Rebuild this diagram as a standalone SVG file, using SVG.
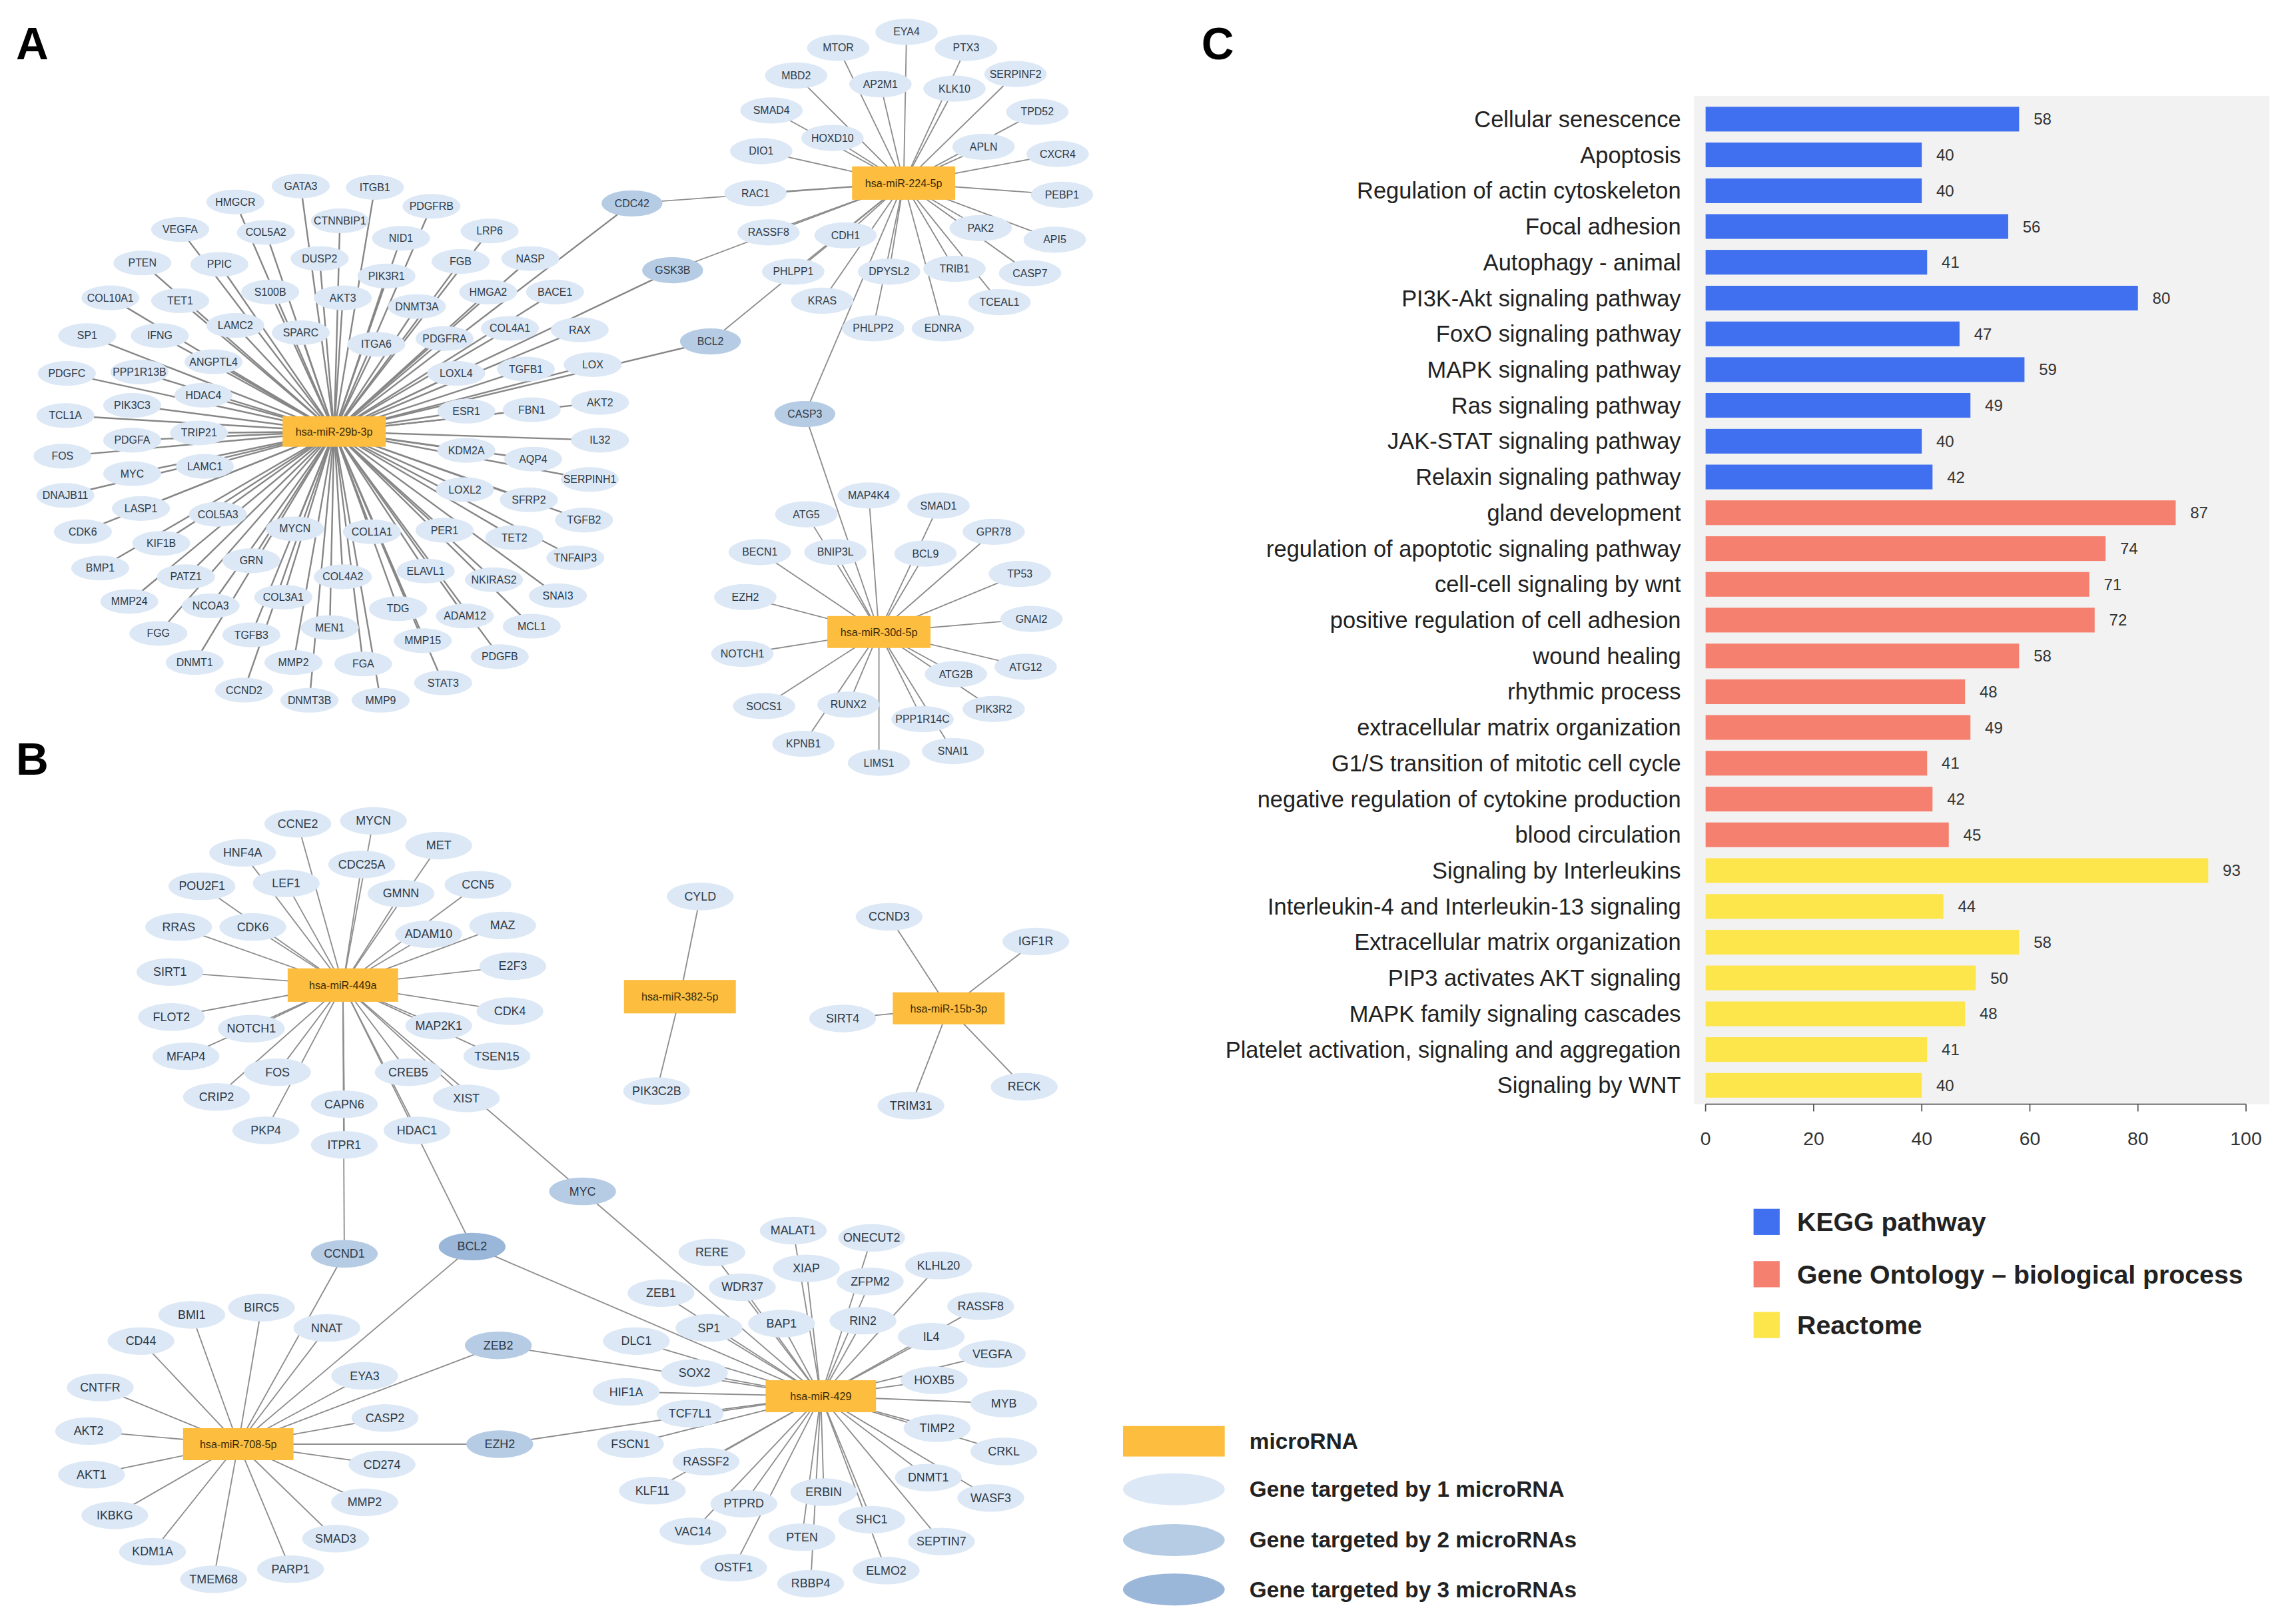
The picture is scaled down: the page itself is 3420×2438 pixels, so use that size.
<svg xmlns="http://www.w3.org/2000/svg" width="3420" height="2438" viewBox="0 0 3420 2438">
<style>
.g1{fill:#dce8f5}
.g2{fill:#b6cce4}
.g3{fill:#9ab6d8}
.mi{fill:#fdbd3f}
.n{font-family:"Liberation Sans",Arial,sans-serif;font-size:7.3px;fill:#2e3946;text-anchor:middle;dominant-baseline:central}
.nb{font-size:8.2px}
.m{font-family:"Liberation Sans",Arial,sans-serif;font-size:7.4px;fill:#3b2b05;text-anchor:middle;dominant-baseline:central}
.e line{stroke:#8e8e8e;stroke-width:0.85}
.e .e29 line{stroke:#868686;stroke-width:1.1}
.lab{font-family:"Liberation Sans",Arial,sans-serif;font-weight:700;font-size:31px;fill:#000}
.cat{font-family:"Liberation Sans",Arial,sans-serif;font-size:15.8px;fill:#222;text-anchor:end;dominant-baseline:central}
.val{font-family:"Liberation Sans",Arial,sans-serif;font-size:11px;fill:#333;dominant-baseline:central}
.tk{font-family:"Liberation Sans",Arial,sans-serif;font-size:13px;fill:#333;text-anchor:middle}
.kegg{fill:#4070f0}.go{fill:#f5806f}.rea{fill:#fde64c}
.lg{font-family:"Liberation Sans",Arial,sans-serif;font-weight:700;font-size:18px;fill:#222;dominant-baseline:central}
.lgb{font-family:"Liberation Sans",Arial,sans-serif;font-weight:700;font-size:15.3px;fill:#222;dominant-baseline:central}
</style>
<rect width="3420" height="2438" fill="#fff"/>
<g transform="scale(2.18112)">
<text class="lab" x="11" y="41">A</text>
<text class="lab" x="11" y="533">B</text>
<text class="lab" x="827" y="41">C</text>

<g id="connectors" class="e">
<g id="edges-29b" class="e29">
<line x1="230" y1="297" x2="207" y2="128"/><line x1="230" y1="297" x2="258" y2="129"/><line x1="230" y1="297" x2="162" y2="139"/><line x1="230" y1="297" x2="297" y2="142"/><line x1="230" y1="297" x2="234" y2="152"/><line x1="230" y1="297" x2="124" y2="158"/><line x1="230" y1="297" x2="183" y2="160"/><line x1="230" y1="297" x2="276" y2="164"/><line x1="230" y1="297" x2="337" y2="159"/><line x1="230" y1="297" x2="98" y2="181"/><line x1="230" y1="297" x2="151" y2="182"/><line x1="230" y1="297" x2="220" y2="178"/><line x1="230" y1="297" x2="266" y2="190"/><line x1="230" y1="297" x2="317" y2="180"/><line x1="230" y1="297" x2="365" y2="178"/><line x1="230" y1="297" x2="124" y2="207"/><line x1="230" y1="297" x2="186" y2="201"/><line x1="230" y1="297" x2="236" y2="205"/><line x1="230" y1="297" x2="336" y2="201"/><line x1="230" y1="297" x2="382" y2="201"/><line x1="230" y1="297" x2="76" y2="205"/><line x1="230" y1="297" x2="287" y2="211"/><line x1="230" y1="297" x2="162" y2="224"/><line x1="230" y1="297" x2="207" y2="229"/><line x1="230" y1="297" x2="259" y2="237"/><line x1="230" y1="297" x2="306" y2="233"/><line x1="230" y1="297" x2="351" y2="226"/><line x1="230" y1="297" x2="399" y2="227"/><line x1="230" y1="297" x2="60" y2="231"/><line x1="230" y1="297" x2="110" y2="231"/><line x1="230" y1="297" x2="147" y2="249"/><line x1="230" y1="297" x2="314" y2="257"/><line x1="230" y1="297" x2="362" y2="254"/><line x1="230" y1="297" x2="408" y2="251"/><line x1="230" y1="297" x2="46" y2="257"/><line x1="230" y1="297" x2="96" y2="256"/><line x1="230" y1="297" x2="140" y2="272"/><line x1="230" y1="297" x2="413" y2="277"/><line x1="230" y1="297" x2="91" y2="279"/><line x1="230" y1="297" x2="321" y2="283"/><line x1="230" y1="297" x2="366" y2="282"/><line x1="230" y1="297" x2="45" y2="286"/><line x1="230" y1="297" x2="137" y2="298"/><line x1="230" y1="297" x2="91" y2="303"/><line x1="230" y1="297" x2="413" y2="303"/><line x1="230" y1="297" x2="321" y2="310"/><line x1="230" y1="297" x2="367" y2="316"/><line x1="230" y1="297" x2="43" y2="314"/><line x1="230" y1="297" x2="141" y2="321"/><line x1="230" y1="297" x2="91" y2="326"/><line x1="230" y1="297" x2="406" y2="330"/><line x1="230" y1="297" x2="320" y2="337"/><line x1="230" y1="297" x2="45" y2="341"/><line x1="230" y1="297" x2="364" y2="344"/><line x1="230" y1="297" x2="97" y2="350"/><line x1="230" y1="297" x2="150" y2="354"/><line x1="230" y1="297" x2="402" y2="358"/><line x1="230" y1="297" x2="203" y2="364"/><line x1="230" y1="297" x2="256" y2="366"/><line x1="230" y1="297" x2="306" y2="365"/><line x1="230" y1="297" x2="57" y2="366"/><line x1="230" y1="297" x2="354" y2="370"/><line x1="230" y1="297" x2="111" y2="374"/><line x1="230" y1="297" x2="396" y2="384"/><line x1="230" y1="297" x2="173" y2="386"/><line x1="230" y1="297" x2="69" y2="391"/><line x1="230" y1="297" x2="293" y2="393"/><line x1="230" y1="297" x2="128" y2="397"/><line x1="230" y1="297" x2="236" y2="397"/><line x1="230" y1="297" x2="340" y2="399"/><line x1="230" y1="297" x2="384" y2="410"/><line x1="230" y1="297" x2="195" y2="411"/><line x1="230" y1="297" x2="89" y2="414"/><line x1="230" y1="297" x2="145" y2="417"/><line x1="230" y1="297" x2="274" y2="419"/><line x1="230" y1="297" x2="320" y2="424"/><line x1="230" y1="297" x2="227" y2="432"/><line x1="230" y1="297" x2="366" y2="431"/><line x1="230" y1="297" x2="109" y2="436"/><line x1="230" y1="297" x2="173" y2="437"/><line x1="230" y1="297" x2="291" y2="441"/><line x1="230" y1="297" x2="344" y2="452"/><line x1="230" y1="297" x2="134" y2="456"/><line x1="230" y1="297" x2="202" y2="456"/><line x1="230" y1="297" x2="250" y2="457"/><line x1="230" y1="297" x2="305" y2="470"/><line x1="230" y1="297" x2="168" y2="475"/><line x1="230" y1="297" x2="213" y2="482"/><line x1="230" y1="297" x2="262" y2="482"/>
<line x1="230" y1="297" x2="435" y2="140"/><line x1="230" y1="297" x2="463" y2="186"/><line x1="230" y1="297" x2="489" y2="235"/>
</g>
<g id="edges-224">
<line x1="622" y1="126" x2="624" y2="22"/><line x1="622" y1="126" x2="577" y2="33"/><line x1="622" y1="126" x2="665" y2="33"/><line x1="622" y1="126" x2="548" y2="52"/><line x1="622" y1="126" x2="606" y2="58"/><line x1="622" y1="126" x2="657" y2="61"/><line x1="622" y1="126" x2="699" y2="51"/><line x1="622" y1="126" x2="531" y2="76"/><line x1="622" y1="126" x2="714" y2="77"/><line x1="622" y1="126" x2="573" y2="95"/><line x1="622" y1="126" x2="524" y2="104"/><line x1="622" y1="126" x2="677" y2="101"/><line x1="622" y1="126" x2="728" y2="106"/><line x1="622" y1="126" x2="520" y2="133"/><line x1="622" y1="126" x2="731" y2="134"/><line x1="622" y1="126" x2="529" y2="160"/><line x1="622" y1="126" x2="582" y2="162"/><line x1="622" y1="126" x2="675" y2="157"/><line x1="622" y1="126" x2="726" y2="165"/><line x1="622" y1="126" x2="546" y2="187"/><line x1="622" y1="126" x2="612" y2="187"/><line x1="622" y1="126" x2="657" y2="185"/><line x1="622" y1="126" x2="709" y2="188"/><line x1="622" y1="126" x2="566" y2="207"/><line x1="622" y1="126" x2="688" y2="208"/><line x1="622" y1="126" x2="601" y2="226"/><line x1="622" y1="126" x2="649" y2="226"/>
<line x1="622" y1="126" x2="435" y2="140"/><line x1="622" y1="126" x2="463" y2="186"/><line x1="622" y1="126" x2="489" y2="235"/><line x1="622" y1="126" x2="554" y2="285"/>
</g>
<g id="edges-30d">
<line x1="605" y1="435" x2="554" y2="285"/>
<line x1="605" y1="435" x2="598" y2="341"/><line x1="605" y1="435" x2="555" y2="354"/><line x1="605" y1="435" x2="646" y2="348"/><line x1="605" y1="435" x2="684" y2="366"/><line x1="605" y1="435" x2="523" y2="380"/><line x1="605" y1="435" x2="575" y2="380"/><line x1="605" y1="435" x2="637" y2="381"/><line x1="605" y1="435" x2="702" y2="395"/><line x1="605" y1="435" x2="513" y2="411"/><line x1="605" y1="435" x2="710" y2="426"/><line x1="605" y1="435" x2="511" y2="450"/><line x1="605" y1="435" x2="706" y2="459"/><line x1="605" y1="435" x2="658" y2="464"/><line x1="605" y1="435" x2="526" y2="486"/><line x1="605" y1="435" x2="584" y2="485"/><line x1="605" y1="435" x2="684" y2="488"/><line x1="605" y1="435" x2="635" y2="495"/><line x1="605" y1="435" x2="553" y2="512"/><line x1="605" y1="435" x2="656" y2="517"/><line x1="605" y1="435" x2="605" y2="525"/>
</g>
<g id="edges-449a">
<line x1="236" y1="678" x2="205" y2="567"/><line x1="236" y1="678" x2="257" y2="565"/><line x1="236" y1="678" x2="167" y2="587"/><line x1="236" y1="678" x2="249" y2="595"/><line x1="236" y1="678" x2="302" y2="582"/><line x1="236" y1="678" x2="197" y2="608"/><line x1="236" y1="678" x2="139" y2="610"/><line x1="236" y1="678" x2="276" y2="615"/><line x1="236" y1="678" x2="329" y2="609"/><line x1="236" y1="678" x2="123" y2="638"/><line x1="236" y1="678" x2="174" y2="638"/><line x1="236" y1="678" x2="295" y2="643"/><line x1="236" y1="678" x2="346" y2="637"/><line x1="236" y1="678" x2="117" y2="669"/><line x1="236" y1="678" x2="353" y2="665"/><line x1="236" y1="678" x2="118" y2="700"/><line x1="236" y1="678" x2="351" y2="696"/><line x1="236" y1="678" x2="173" y2="708"/><line x1="236" y1="678" x2="302" y2="706"/><line x1="236" y1="678" x2="128" y2="727"/><line x1="236" y1="678" x2="342" y2="727"/><line x1="236" y1="678" x2="191" y2="738"/><line x1="236" y1="678" x2="281" y2="738"/><line x1="236" y1="678" x2="149" y2="755"/><line x1="236" y1="678" x2="237" y2="760"/><line x1="236" y1="678" x2="321" y2="756"/><line x1="236" y1="678" x2="183" y2="778"/><line x1="236" y1="678" x2="287" y2="778"/><line x1="236" y1="678" x2="237" y2="788"/>
<line x1="236" y1="678" x2="237" y2="863"/><line x1="236" y1="678" x2="325" y2="858"/><line x1="236" y1="678" x2="401" y2="820"/>
</g>
<g id="edges-382">
<line x1="468" y1="686" x2="482" y2="617"/><line x1="468" y1="686" x2="452" y2="751"/>
</g>
<g id="edges-15b">
<line x1="653" y1="694" x2="612" y2="631"/><line x1="653" y1="694" x2="713" y2="648"/><line x1="653" y1="694" x2="580" y2="701"/><line x1="653" y1="694" x2="705" y2="748"/><line x1="653" y1="694" x2="627" y2="761"/>
</g>
<g id="edges-708">
<line x1="164" y1="994" x2="237" y2="863"/><line x1="164" y1="994" x2="325" y2="858"/><line x1="164" y1="994" x2="343" y2="926"/><line x1="164" y1="994" x2="344" y2="994"/>
<line x1="164" y1="994" x2="132" y2="905"/><line x1="164" y1="994" x2="180" y2="900"/><line x1="164" y1="994" x2="97" y2="923"/><line x1="164" y1="994" x2="225" y2="914"/><line x1="164" y1="994" x2="69" y2="955"/><line x1="164" y1="994" x2="251" y2="947"/><line x1="164" y1="994" x2="61" y2="985"/><line x1="164" y1="994" x2="265" y2="976"/><line x1="164" y1="994" x2="263" y2="1008"/><line x1="164" y1="994" x2="63" y2="1015"/><line x1="164" y1="994" x2="251" y2="1034"/><line x1="164" y1="994" x2="79" y2="1043"/><line x1="164" y1="994" x2="231" y2="1059"/><line x1="164" y1="994" x2="105" y2="1068"/><line x1="164" y1="994" x2="200" y2="1080"/><line x1="164" y1="994" x2="147" y2="1087"/>
</g>
<g id="edges-429">
<line x1="565" y1="961" x2="325" y2="858"/><line x1="565" y1="961" x2="401" y2="820"/><line x1="565" y1="961" x2="343" y2="926"/><line x1="565" y1="961" x2="344" y2="994"/>
<line x1="565" y1="961" x2="546" y2="847"/><line x1="565" y1="961" x2="600" y2="852"/><line x1="565" y1="961" x2="490" y2="862"/><line x1="565" y1="961" x2="646" y2="871"/><line x1="565" y1="961" x2="555" y2="873"/><line x1="565" y1="961" x2="511" y2="886"/><line x1="565" y1="961" x2="599" y2="882"/><line x1="565" y1="961" x2="455" y2="890"/><line x1="565" y1="961" x2="675" y2="899"/><line x1="565" y1="961" x2="538" y2="911"/><line x1="565" y1="961" x2="594" y2="909"/><line x1="565" y1="961" x2="488" y2="914"/><line x1="565" y1="961" x2="641" y2="920"/><line x1="565" y1="961" x2="438" y2="923"/><line x1="565" y1="961" x2="683" y2="932"/><line x1="565" y1="961" x2="478" y2="945"/><line x1="565" y1="961" x2="643" y2="950"/><line x1="565" y1="961" x2="431" y2="958"/><line x1="565" y1="961" x2="475" y2="973"/><line x1="565" y1="961" x2="691" y2="966"/><line x1="565" y1="961" x2="434" y2="994"/><line x1="565" y1="961" x2="645" y2="983"/><line x1="565" y1="961" x2="486" y2="1006"/><line x1="565" y1="961" x2="691" y2="999"/><line x1="565" y1="961" x2="449" y2="1026"/><line x1="565" y1="961" x2="639" y2="1017"/><line x1="565" y1="961" x2="567" y2="1027"/><line x1="565" y1="961" x2="682" y2="1031"/><line x1="565" y1="961" x2="600" y2="1046"/><line x1="565" y1="961" x2="512" y2="1035"/><line x1="565" y1="961" x2="477" y2="1054"/><line x1="565" y1="961" x2="648" y2="1061"/><line x1="565" y1="961" x2="552" y2="1058"/><line x1="565" y1="961" x2="505" y2="1079"/><line x1="565" y1="961" x2="610" y2="1081"/><line x1="565" y1="961" x2="558" y2="1090"/>
</g>
</g>

<g id="panelA-nodes">
<g id="A-GATA3"><ellipse class="g1" cx="207" cy="128" rx="20" ry="8.5"/><text class="n" x="207" y="128">GATA3</text></g>
<g id="A-ITGB1"><ellipse class="g1" cx="258" cy="129" rx="20" ry="8.5"/><text class="n" x="258" y="129">ITGB1</text></g>
<g id="A-HMGCR"><ellipse class="g1" cx="162" cy="139" rx="20" ry="8.5"/><text class="n" x="162" y="139">HMGCR</text></g>
<g id="A-PDGFRB"><ellipse class="g1" cx="297" cy="142" rx="20" ry="8.5"/><text class="n" x="297" y="142">PDGFRB</text></g>
<g id="A-CTNNBIP1"><ellipse class="g1" cx="234" cy="152" rx="20" ry="8.5"/><text class="n" x="234" y="152">CTNNBIP1</text></g>
<g id="A-VEGFA"><ellipse class="g1" cx="124" cy="158" rx="20" ry="8.5"/><text class="n" x="124" y="158">VEGFA</text></g>
<g id="A-COL5A2"><ellipse class="g1" cx="183" cy="160" rx="20" ry="8.5"/><text class="n" x="183" y="160">COL5A2</text></g>
<g id="A-NID1"><ellipse class="g1" cx="276" cy="164" rx="20" ry="8.5"/><text class="n" x="276" y="164">NID1</text></g>
<g id="A-LRP6"><ellipse class="g1" cx="337" cy="159" rx="20" ry="8.5"/><text class="n" x="337" y="159">LRP6</text></g>
<g id="A-PTEN"><ellipse class="g1" cx="98" cy="181" rx="20" ry="8.5"/><text class="n" x="98" y="181">PTEN</text></g>
<g id="A-PPIC"><ellipse class="g1" cx="151" cy="182" rx="20" ry="8.5"/><text class="n" x="151" y="182">PPIC</text></g>
<g id="A-DUSP2"><ellipse class="g1" cx="220" cy="178" rx="20" ry="8.5"/><text class="n" x="220" y="178">DUSP2</text></g>
<g id="A-PIK3R1"><ellipse class="g1" cx="266" cy="190" rx="20" ry="8.5"/><text class="n" x="266" y="190">PIK3R1</text></g>
<g id="A-FGB"><ellipse class="g1" cx="317" cy="180" rx="20" ry="8.5"/><text class="n" x="317" y="180">FGB</text></g>
<g id="A-NASP"><ellipse class="g1" cx="365" cy="178" rx="20" ry="8.5"/><text class="n" x="365" y="178">NASP</text></g>
<g id="A-TET1"><ellipse class="g1" cx="124" cy="207" rx="20" ry="8.5"/><text class="n" x="124" y="207">TET1</text></g>
<g id="A-S100B"><ellipse class="g1" cx="186" cy="201" rx="20" ry="8.5"/><text class="n" x="186" y="201">S100B</text></g>
<g id="A-AKT3"><ellipse class="g1" cx="236" cy="205" rx="20" ry="8.5"/><text class="n" x="236" y="205">AKT3</text></g>
<g id="A-HMGA2"><ellipse class="g1" cx="336" cy="201" rx="20" ry="8.5"/><text class="n" x="336" y="201">HMGA2</text></g>
<g id="A-BACE1"><ellipse class="g1" cx="382" cy="201" rx="20" ry="8.5"/><text class="n" x="382" y="201">BACE1</text></g>
<g id="A-COL10A1"><ellipse class="g1" cx="76" cy="205" rx="20" ry="8.5"/><text class="n" x="76" y="205">COL10A1</text></g>
<g id="A-DNMT3A"><ellipse class="g1" cx="287" cy="211" rx="20" ry="8.5"/><text class="n" x="287" y="211">DNMT3A</text></g>
<g id="A-LAMC2"><ellipse class="g1" cx="162" cy="224" rx="20" ry="8.5"/><text class="n" x="162" y="224">LAMC2</text></g>
<g id="A-SPARC"><ellipse class="g1" cx="207" cy="229" rx="20" ry="8.5"/><text class="n" x="207" y="229">SPARC</text></g>
<g id="A-ITGA6"><ellipse class="g1" cx="259" cy="237" rx="20" ry="8.5"/><text class="n" x="259" y="237">ITGA6</text></g>
<g id="A-PDGFRA"><ellipse class="g1" cx="306" cy="233" rx="20" ry="8.5"/><text class="n" x="306" y="233">PDGFRA</text></g>
<g id="A-COL4A1"><ellipse class="g1" cx="351" cy="226" rx="20" ry="8.5"/><text class="n" x="351" y="226">COL4A1</text></g>
<g id="A-RAX"><ellipse class="g1" cx="399" cy="227" rx="20" ry="8.5"/><text class="n" x="399" y="227">RAX</text></g>
<g id="A-SP1"><ellipse class="g1" cx="60" cy="231" rx="20" ry="8.5"/><text class="n" x="60" y="231">SP1</text></g>
<g id="A-IFNG"><ellipse class="g1" cx="110" cy="231" rx="20" ry="8.5"/><text class="n" x="110" y="231">IFNG</text></g>
<g id="A-ANGPTL4"><ellipse class="g1" cx="147" cy="249" rx="20" ry="8.5"/><text class="n" x="147" y="249">ANGPTL4</text></g>
<g id="A-LOXL4"><ellipse class="g1" cx="314" cy="257" rx="20" ry="8.5"/><text class="n" x="314" y="257">LOXL4</text></g>
<g id="A-TGFB1"><ellipse class="g1" cx="362" cy="254" rx="20" ry="8.5"/><text class="n" x="362" y="254">TGFB1</text></g>
<g id="A-LOX"><ellipse class="g1" cx="408" cy="251" rx="20" ry="8.5"/><text class="n" x="408" y="251">LOX</text></g>
<g id="A-PDGFC"><ellipse class="g1" cx="46" cy="257" rx="20" ry="8.5"/><text class="n" x="46" y="257">PDGFC</text></g>
<g id="A-PPP1R13B"><ellipse class="g1" cx="96" cy="256" rx="20" ry="8.5"/><text class="n" x="96" y="256">PPP1R13B</text></g>
<g id="A-HDAC4"><ellipse class="g1" cx="140" cy="272" rx="20" ry="8.5"/><text class="n" x="140" y="272">HDAC4</text></g>
<g id="A-AKT2"><ellipse class="g1" cx="413" cy="277" rx="20" ry="8.5"/><text class="n" x="413" y="277">AKT2</text></g>
<g id="A-PIK3C3"><ellipse class="g1" cx="91" cy="279" rx="20" ry="8.5"/><text class="n" x="91" y="279">PIK3C3</text></g>
<g id="A-ESR1"><ellipse class="g1" cx="321" cy="283" rx="20" ry="8.5"/><text class="n" x="321" y="283">ESR1</text></g>
<g id="A-FBN1"><ellipse class="g1" cx="366" cy="282" rx="20" ry="8.5"/><text class="n" x="366" y="282">FBN1</text></g>
<g id="A-TCL1A"><ellipse class="g1" cx="45" cy="286" rx="20" ry="8.5"/><text class="n" x="45" y="286">TCL1A</text></g>
<g id="A-TRIP21"><ellipse class="g1" cx="137" cy="298" rx="20" ry="8.5"/><text class="n" x="137" y="298">TRIP21</text></g>
<g id="A-PDGFA"><ellipse class="g1" cx="91" cy="303" rx="20" ry="8.5"/><text class="n" x="91" y="303">PDGFA</text></g>
<g id="A-IL32"><ellipse class="g1" cx="413" cy="303" rx="20" ry="8.5"/><text class="n" x="413" y="303">IL32</text></g>
<g id="A-KDM2A"><ellipse class="g1" cx="321" cy="310" rx="20" ry="8.5"/><text class="n" x="321" y="310">KDM2A</text></g>
<g id="A-AQP4"><ellipse class="g1" cx="367" cy="316" rx="20" ry="8.5"/><text class="n" x="367" y="316">AQP4</text></g>
<g id="A-FOS"><ellipse class="g1" cx="43" cy="314" rx="20" ry="8.5"/><text class="n" x="43" y="314">FOS</text></g>
<g id="A-LAMC1"><ellipse class="g1" cx="141" cy="321" rx="20" ry="8.5"/><text class="n" x="141" y="321">LAMC1</text></g>
<g id="A-MYC"><ellipse class="g1" cx="91" cy="326" rx="20" ry="8.5"/><text class="n" x="91" y="326">MYC</text></g>
<g id="A-SERPINH1"><ellipse class="g1" cx="406" cy="330" rx="20" ry="8.5"/><text class="n" x="406" y="330">SERPINH1</text></g>
<g id="A-LOXL2"><ellipse class="g1" cx="320" cy="337" rx="20" ry="8.5"/><text class="n" x="320" y="337">LOXL2</text></g>
<g id="A-DNAJB11"><ellipse class="g1" cx="45" cy="341" rx="20" ry="8.5"/><text class="n" x="45" y="341">DNAJB11</text></g>
<g id="A-SFRP2"><ellipse class="g1" cx="364" cy="344" rx="20" ry="8.5"/><text class="n" x="364" y="344">SFRP2</text></g>
<g id="A-LASP1"><ellipse class="g1" cx="97" cy="350" rx="20" ry="8.5"/><text class="n" x="97" y="350">LASP1</text></g>
<g id="A-COL5A3"><ellipse class="g1" cx="150" cy="354" rx="20" ry="8.5"/><text class="n" x="150" y="354">COL5A3</text></g>
<g id="A-TGFB2"><ellipse class="g1" cx="402" cy="358" rx="20" ry="8.5"/><text class="n" x="402" y="358">TGFB2</text></g>
<g id="A-MYCN"><ellipse class="g1" cx="203" cy="364" rx="20" ry="8.5"/><text class="n" x="203" y="364">MYCN</text></g>
<g id="A-COL1A1"><ellipse class="g1" cx="256" cy="366" rx="20" ry="8.5"/><text class="n" x="256" y="366">COL1A1</text></g>
<g id="A-PER1"><ellipse class="g1" cx="306" cy="365" rx="20" ry="8.5"/><text class="n" x="306" y="365">PER1</text></g>
<g id="A-CDK6"><ellipse class="g1" cx="57" cy="366" rx="20" ry="8.5"/><text class="n" x="57" y="366">CDK6</text></g>
<g id="A-TET2"><ellipse class="g1" cx="354" cy="370" rx="20" ry="8.5"/><text class="n" x="354" y="370">TET2</text></g>
<g id="A-KIF1B"><ellipse class="g1" cx="111" cy="374" rx="20" ry="8.5"/><text class="n" x="111" y="374">KIF1B</text></g>
<g id="A-TNFAIP3"><ellipse class="g1" cx="396" cy="384" rx="20" ry="8.5"/><text class="n" x="396" y="384">TNFAIP3</text></g>
<g id="A-GRN"><ellipse class="g1" cx="173" cy="386" rx="20" ry="8.5"/><text class="n" x="173" y="386">GRN</text></g>
<g id="A-BMP1"><ellipse class="g1" cx="69" cy="391" rx="20" ry="8.5"/><text class="n" x="69" y="391">BMP1</text></g>
<g id="A-ELAVL1"><ellipse class="g1" cx="293" cy="393" rx="20" ry="8.5"/><text class="n" x="293" y="393">ELAVL1</text></g>
<g id="A-PATZ1"><ellipse class="g1" cx="128" cy="397" rx="20" ry="8.5"/><text class="n" x="128" y="397">PATZ1</text></g>
<g id="A-COL4A2"><ellipse class="g1" cx="236" cy="397" rx="20" ry="8.5"/><text class="n" x="236" y="397">COL4A2</text></g>
<g id="A-NKIRAS2"><ellipse class="g1" cx="340" cy="399" rx="20" ry="8.5"/><text class="n" x="340" y="399">NKIRAS2</text></g>
<g id="A-SNAI3"><ellipse class="g1" cx="384" cy="410" rx="20" ry="8.5"/><text class="n" x="384" y="410">SNAI3</text></g>
<g id="A-COL3A1"><ellipse class="g1" cx="195" cy="411" rx="20" ry="8.5"/><text class="n" x="195" y="411">COL3A1</text></g>
<g id="A-MMP24"><ellipse class="g1" cx="89" cy="414" rx="20" ry="8.5"/><text class="n" x="89" y="414">MMP24</text></g>
<g id="A-NCOA3"><ellipse class="g1" cx="145" cy="417" rx="20" ry="8.5"/><text class="n" x="145" y="417">NCOA3</text></g>
<g id="A-TDG"><ellipse class="g1" cx="274" cy="419" rx="20" ry="8.5"/><text class="n" x="274" y="419">TDG</text></g>
<g id="A-ADAM12"><ellipse class="g1" cx="320" cy="424" rx="20" ry="8.5"/><text class="n" x="320" y="424">ADAM12</text></g>
<g id="A-MEN1"><ellipse class="g1" cx="227" cy="432" rx="20" ry="8.5"/><text class="n" x="227" y="432">MEN1</text></g>
<g id="A-MCL1"><ellipse class="g1" cx="366" cy="431" rx="20" ry="8.5"/><text class="n" x="366" y="431">MCL1</text></g>
<g id="A-FGG"><ellipse class="g1" cx="109" cy="436" rx="20" ry="8.5"/><text class="n" x="109" y="436">FGG</text></g>
<g id="A-TGFB3"><ellipse class="g1" cx="173" cy="437" rx="20" ry="8.5"/><text class="n" x="173" y="437">TGFB3</text></g>
<g id="A-MMP15"><ellipse class="g1" cx="291" cy="441" rx="20" ry="8.5"/><text class="n" x="291" y="441">MMP15</text></g>
<g id="A-PDGFB"><ellipse class="g1" cx="344" cy="452" rx="20" ry="8.5"/><text class="n" x="344" y="452">PDGFB</text></g>
<g id="A-DNMT1"><ellipse class="g1" cx="134" cy="456" rx="20" ry="8.5"/><text class="n" x="134" y="456">DNMT1</text></g>
<g id="A-MMP2"><ellipse class="g1" cx="202" cy="456" rx="20" ry="8.5"/><text class="n" x="202" y="456">MMP2</text></g>
<g id="A-FGA"><ellipse class="g1" cx="250" cy="457" rx="20" ry="8.5"/><text class="n" x="250" y="457">FGA</text></g>
<g id="A-STAT3"><ellipse class="g1" cx="305" cy="470" rx="20" ry="8.5"/><text class="n" x="305" y="470">STAT3</text></g>
<g id="A-CCND2"><ellipse class="g1" cx="168" cy="475" rx="20" ry="8.5"/><text class="n" x="168" y="475">CCND2</text></g>
<g id="A-DNMT3B"><ellipse class="g1" cx="213" cy="482" rx="20" ry="8.5"/><text class="n" x="213" y="482">DNMT3B</text></g>
<g id="A-MMP9"><ellipse class="g1" cx="262" cy="482" rx="20" ry="8.5"/><text class="n" x="262" y="482">MMP9</text></g>

<g id="A-CDC42"><ellipse class="g2" cx="435" cy="140" rx="21" ry="9"/><text class="n" x="435" y="140">CDC42</text></g>
<g id="A-GSK3B"><ellipse class="g2" cx="463" cy="186" rx="21" ry="9"/><text class="n" x="463" y="186">GSK3B</text></g>
<g id="A-BCL2"><ellipse class="g2" cx="489" cy="235" rx="21" ry="9"/><text class="n" x="489" y="235">BCL2</text></g>
<g id="A-CASP3"><ellipse class="g2" cx="554" cy="285" rx="21" ry="9"/><text class="n" x="554" y="285">CASP3</text></g>

<g id="A-EYA4"><ellipse class="g1" cx="624" cy="22" rx="21.5" ry="9"/><text class="n" x="624" y="22">EYA4</text></g>
<g id="A-MTOR"><ellipse class="g1" cx="577" cy="33" rx="21.5" ry="9"/><text class="n" x="577" y="33">MTOR</text></g>
<g id="A-PTX3"><ellipse class="g1" cx="665" cy="33" rx="21.5" ry="9"/><text class="n" x="665" y="33">PTX3</text></g>
<g id="A-MBD2"><ellipse class="g1" cx="548" cy="52" rx="21.5" ry="9"/><text class="n" x="548" y="52">MBD2</text></g>
<g id="A-AP2M1"><ellipse class="g1" cx="606" cy="58" rx="21.5" ry="9"/><text class="n" x="606" y="58">AP2M1</text></g>
<g id="A-KLK10"><ellipse class="g1" cx="657" cy="61" rx="21.5" ry="9"/><text class="n" x="657" y="61">KLK10</text></g>
<g id="A-SERPINF2"><ellipse class="g1" cx="699" cy="51" rx="21.5" ry="9"/><text class="n" x="699" y="51">SERPINF2</text></g>
<g id="A-SMAD4"><ellipse class="g1" cx="531" cy="76" rx="21.5" ry="9"/><text class="n" x="531" y="76">SMAD4</text></g>
<g id="A-TPD52"><ellipse class="g1" cx="714" cy="77" rx="21.5" ry="9"/><text class="n" x="714" y="77">TPD52</text></g>
<g id="A-HOXD10"><ellipse class="g1" cx="573" cy="95" rx="21.5" ry="9"/><text class="n" x="573" y="95">HOXD10</text></g>
<g id="A-DIO1"><ellipse class="g1" cx="524" cy="104" rx="21.5" ry="9"/><text class="n" x="524" y="104">DIO1</text></g>
<g id="A-APLN"><ellipse class="g1" cx="677" cy="101" rx="21.5" ry="9"/><text class="n" x="677" y="101">APLN</text></g>
<g id="A-CXCR4"><ellipse class="g1" cx="728" cy="106" rx="21.5" ry="9"/><text class="n" x="728" y="106">CXCR4</text></g>
<g id="A-RAC1"><ellipse class="g1" cx="520" cy="133" rx="21.5" ry="9"/><text class="n" x="520" y="133">RAC1</text></g>
<g id="A-PEBP1"><ellipse class="g1" cx="731" cy="134" rx="21.5" ry="9"/><text class="n" x="731" y="134">PEBP1</text></g>
<g id="A-RASSF8"><ellipse class="g1" cx="529" cy="160" rx="21.5" ry="9"/><text class="n" x="529" y="160">RASSF8</text></g>
<g id="A-CDH1"><ellipse class="g1" cx="582" cy="162" rx="21.5" ry="9"/><text class="n" x="582" y="162">CDH1</text></g>
<g id="A-PAK2"><ellipse class="g1" cx="675" cy="157" rx="21.5" ry="9"/><text class="n" x="675" y="157">PAK2</text></g>
<g id="A-API5"><ellipse class="g1" cx="726" cy="165" rx="21.5" ry="9"/><text class="n" x="726" y="165">API5</text></g>
<g id="A-PHLPP1"><ellipse class="g1" cx="546" cy="187" rx="21.5" ry="9"/><text class="n" x="546" y="187">PHLPP1</text></g>
<g id="A-DPYSL2"><ellipse class="g1" cx="612" cy="187" rx="21.5" ry="9"/><text class="n" x="612" y="187">DPYSL2</text></g>
<g id="A-TRIB1"><ellipse class="g1" cx="657" cy="185" rx="21.5" ry="9"/><text class="n" x="657" y="185">TRIB1</text></g>
<g id="A-CASP7"><ellipse class="g1" cx="709" cy="188" rx="21.5" ry="9"/><text class="n" x="709" y="188">CASP7</text></g>
<g id="A-KRAS"><ellipse class="g1" cx="566" cy="207" rx="21.5" ry="9"/><text class="n" x="566" y="207">KRAS</text></g>
<g id="A-TCEAL1"><ellipse class="g1" cx="688" cy="208" rx="21.5" ry="9"/><text class="n" x="688" y="208">TCEAL1</text></g>
<g id="A-PHLPP2"><ellipse class="g1" cx="601" cy="226" rx="21.5" ry="9"/><text class="n" x="601" y="226">PHLPP2</text></g>
<g id="A-EDNRA"><ellipse class="g1" cx="649" cy="226" rx="21.5" ry="9"/><text class="n" x="649" y="226">EDNRA</text></g>

<g id="A-MAP4K4"><ellipse class="g1" cx="598" cy="341" rx="21.5" ry="9"/><text class="n" x="598" y="341">MAP4K4</text></g>
<g id="A-ATG5"><ellipse class="g1" cx="555" cy="354" rx="21.5" ry="9"/><text class="n" x="555" y="354">ATG5</text></g>
<g id="A-SMAD1"><ellipse class="g1" cx="646" cy="348" rx="21.5" ry="9"/><text class="n" x="646" y="348">SMAD1</text></g>
<g id="A-GPR78"><ellipse class="g1" cx="684" cy="366" rx="21.5" ry="9"/><text class="n" x="684" y="366">GPR78</text></g>
<g id="A-BECN1"><ellipse class="g1" cx="523" cy="380" rx="21.5" ry="9"/><text class="n" x="523" y="380">BECN1</text></g>
<g id="A-BNIP3L"><ellipse class="g1" cx="575" cy="380" rx="21.5" ry="9"/><text class="n" x="575" y="380">BNIP3L</text></g>
<g id="A-BCL9"><ellipse class="g1" cx="637" cy="381" rx="21.5" ry="9"/><text class="n" x="637" y="381">BCL9</text></g>
<g id="A-TP53"><ellipse class="g1" cx="702" cy="395" rx="21.5" ry="9"/><text class="n" x="702" y="395">TP53</text></g>
<g id="A-EZH2"><ellipse class="g1" cx="513" cy="411" rx="21.5" ry="9"/><text class="n" x="513" y="411">EZH2</text></g>
<g id="A-GNAI2"><ellipse class="g1" cx="710" cy="426" rx="21.5" ry="9"/><text class="n" x="710" y="426">GNAI2</text></g>
<g id="A-NOTCH1"><ellipse class="g1" cx="511" cy="450" rx="21.5" ry="9"/><text class="n" x="511" y="450">NOTCH1</text></g>
<g id="A-ATG12"><ellipse class="g1" cx="706" cy="459" rx="21.5" ry="9"/><text class="n" x="706" y="459">ATG12</text></g>
<g id="A-ATG2B"><ellipse class="g1" cx="658" cy="464" rx="21.5" ry="9"/><text class="n" x="658" y="464">ATG2B</text></g>
<g id="A-SOCS1"><ellipse class="g1" cx="526" cy="486" rx="21.5" ry="9"/><text class="n" x="526" y="486">SOCS1</text></g>
<g id="A-RUNX2"><ellipse class="g1" cx="584" cy="485" rx="21.5" ry="9"/><text class="n" x="584" y="485">RUNX2</text></g>
<g id="A-PIK3R2"><ellipse class="g1" cx="684" cy="488" rx="21.5" ry="9"/><text class="n" x="684" y="488">PIK3R2</text></g>
<g id="A-PPP1R14C"><ellipse class="g1" cx="635" cy="495" rx="21.5" ry="9"/><text class="n" x="635" y="495">PPP1R14C</text></g>
<g id="A-KPNB1"><ellipse class="g1" cx="553" cy="512" rx="21.5" ry="9"/><text class="n" x="553" y="512">KPNB1</text></g>
<g id="A-SNAI1"><ellipse class="g1" cx="656" cy="517" rx="21.5" ry="9"/><text class="n" x="656" y="517">SNAI1</text></g>
<g id="A-LIMS1"><ellipse class="g1" cx="605" cy="525" rx="21.5" ry="9"/><text class="n" x="605" y="525">LIMS1</text></g>

<g id="A-hsa-miR-29b-3p"><rect class="mi" x="194.5" y="286.5" width="71" height="21"/><text class="m" x="230" y="297">hsa-miR-29b-3p</text></g>
<g id="A-hsa-miR-224-5p"><rect class="mi" x="586.5" y="114.5" width="71" height="23"/><text class="m" x="622" y="126">hsa-miR-224-5p</text></g>
<g id="A-hsa-miR-30d-5p"><rect class="mi" x="569.5" y="424" width="71" height="22"/><text class="m" x="605" y="435">hsa-miR-30d-5p</text></g>
</g>

<g id="panelB-nodes">
<g id="B-CCNE2"><ellipse class="g1" cx="205" cy="567" rx="23" ry="9.5"/><text class="n nb" x="205" y="567">CCNE2</text></g>
<g id="B-MYCN"><ellipse class="g1" cx="257" cy="565" rx="23" ry="9.5"/><text class="n nb" x="257" y="565">MYCN</text></g>
<g id="B-HNF4A"><ellipse class="g1" cx="167" cy="587" rx="23" ry="9.5"/><text class="n nb" x="167" y="587">HNF4A</text></g>
<g id="B-CDC25A"><ellipse class="g1" cx="249" cy="595" rx="23" ry="9.5"/><text class="n nb" x="249" y="595">CDC25A</text></g>
<g id="B-MET"><ellipse class="g1" cx="302" cy="582" rx="23" ry="9.5"/><text class="n nb" x="302" y="582">MET</text></g>
<g id="B-LEF1"><ellipse class="g1" cx="197" cy="608" rx="23" ry="9.5"/><text class="n nb" x="197" y="608">LEF1</text></g>
<g id="B-POU2F1"><ellipse class="g1" cx="139" cy="610" rx="23" ry="9.5"/><text class="n nb" x="139" y="610">POU2F1</text></g>
<g id="B-GMNN"><ellipse class="g1" cx="276" cy="615" rx="23" ry="9.5"/><text class="n nb" x="276" y="615">GMNN</text></g>
<g id="B-CCN5"><ellipse class="g1" cx="329" cy="609" rx="23" ry="9.5"/><text class="n nb" x="329" y="609">CCN5</text></g>
<g id="B-RRAS"><ellipse class="g1" cx="123" cy="638" rx="23" ry="9.5"/><text class="n nb" x="123" y="638">RRAS</text></g>
<g id="B-CDK6"><ellipse class="g1" cx="174" cy="638" rx="23" ry="9.5"/><text class="n nb" x="174" y="638">CDK6</text></g>
<g id="B-ADAM10"><ellipse class="g1" cx="295" cy="643" rx="23" ry="9.5"/><text class="n nb" x="295" y="643">ADAM10</text></g>
<g id="B-MAZ"><ellipse class="g1" cx="346" cy="637" rx="23" ry="9.5"/><text class="n nb" x="346" y="637">MAZ</text></g>
<g id="B-SIRT1"><ellipse class="g1" cx="117" cy="669" rx="23" ry="9.5"/><text class="n nb" x="117" y="669">SIRT1</text></g>
<g id="B-E2F3"><ellipse class="g1" cx="353" cy="665" rx="23" ry="9.5"/><text class="n nb" x="353" y="665">E2F3</text></g>
<g id="B-FLOT2"><ellipse class="g1" cx="118" cy="700" rx="23" ry="9.5"/><text class="n nb" x="118" y="700">FLOT2</text></g>
<g id="B-CDK4"><ellipse class="g1" cx="351" cy="696" rx="23" ry="9.5"/><text class="n nb" x="351" y="696">CDK4</text></g>
<g id="B-NOTCH1"><ellipse class="g1" cx="173" cy="708" rx="23" ry="9.5"/><text class="n nb" x="173" y="708">NOTCH1</text></g>
<g id="B-MAP2K1"><ellipse class="g1" cx="302" cy="706" rx="23" ry="9.5"/><text class="n nb" x="302" y="706">MAP2K1</text></g>
<g id="B-MFAP4"><ellipse class="g1" cx="128" cy="727" rx="23" ry="9.5"/><text class="n nb" x="128" y="727">MFAP4</text></g>
<g id="B-TSEN15"><ellipse class="g1" cx="342" cy="727" rx="23" ry="9.5"/><text class="n nb" x="342" y="727">TSEN15</text></g>
<g id="B-FOS"><ellipse class="g1" cx="191" cy="738" rx="23" ry="9.5"/><text class="n nb" x="191" y="738">FOS</text></g>
<g id="B-CREB5"><ellipse class="g1" cx="281" cy="738" rx="23" ry="9.5"/><text class="n nb" x="281" y="738">CREB5</text></g>
<g id="B-CRIP2"><ellipse class="g1" cx="149" cy="755" rx="23" ry="9.5"/><text class="n nb" x="149" y="755">CRIP2</text></g>
<g id="B-CAPN6"><ellipse class="g1" cx="237" cy="760" rx="23" ry="9.5"/><text class="n nb" x="237" y="760">CAPN6</text></g>
<g id="B-XIST"><ellipse class="g1" cx="321" cy="756" rx="23" ry="9.5"/><text class="n nb" x="321" y="756">XIST</text></g>
<g id="B-PKP4"><ellipse class="g1" cx="183" cy="778" rx="23" ry="9.5"/><text class="n nb" x="183" y="778">PKP4</text></g>
<g id="B-HDAC1"><ellipse class="g1" cx="287" cy="778" rx="23" ry="9.5"/><text class="n nb" x="287" y="778">HDAC1</text></g>
<g id="B-ITPR1"><ellipse class="g1" cx="237" cy="788" rx="23" ry="9.5"/><text class="n nb" x="237" y="788">ITPR1</text></g>

<g id="B-CYLD"><ellipse class="g1" cx="482" cy="617" rx="23" ry="9.5"/><text class="n nb" x="482" y="617">CYLD</text></g>
<g id="B-PIK3C2B"><ellipse class="g1" cx="452" cy="751" rx="23" ry="9.5"/><text class="n nb" x="452" y="751">PIK3C2B</text></g>
<g id="B-CCND3"><ellipse class="g1" cx="612" cy="631" rx="23" ry="9.5"/><text class="n nb" x="612" y="631">CCND3</text></g>
<g id="B-IGF1R"><ellipse class="g1" cx="713" cy="648" rx="23" ry="9.5"/><text class="n nb" x="713" y="648">IGF1R</text></g>
<g id="B-SIRT4"><ellipse class="g1" cx="580" cy="701" rx="23" ry="9.5"/><text class="n nb" x="580" y="701">SIRT4</text></g>
<g id="B-RECK"><ellipse class="g1" cx="705" cy="748" rx="23" ry="9.5"/><text class="n nb" x="705" y="748">RECK</text></g>
<g id="B-TRIM31"><ellipse class="g1" cx="627" cy="761" rx="23" ry="9.5"/><text class="n nb" x="627" y="761">TRIM31</text></g>

<g id="B-CCND1"><ellipse class="g2" cx="237" cy="863" rx="23" ry="9.5"/><text class="n nb" x="237" y="863">CCND1</text></g>
<g id="B-BCL2"><ellipse class="g3" cx="325" cy="858" rx="23" ry="9.5"/><text class="n nb" x="325" y="858">BCL2</text></g>
<g id="B-MYC"><ellipse class="g2" cx="401" cy="820" rx="23" ry="9.5"/><text class="n nb" x="401" y="820">MYC</text></g>
<g id="B-ZEB2"><ellipse class="g2" cx="343" cy="926" rx="23" ry="9.5"/><text class="n nb" x="343" y="926">ZEB2</text></g>
<g id="B-EZH2"><ellipse class="g2" cx="344" cy="994" rx="23" ry="9.5"/><text class="n nb" x="344" y="994">EZH2</text></g>

<g id="B-BMI1"><ellipse class="g1" cx="132" cy="905" rx="23" ry="9.5"/><text class="n nb" x="132" y="905">BMI1</text></g>
<g id="B-BIRC5"><ellipse class="g1" cx="180" cy="900" rx="23" ry="9.5"/><text class="n nb" x="180" y="900">BIRC5</text></g>
<g id="B-CD44"><ellipse class="g1" cx="97" cy="923" rx="23" ry="9.5"/><text class="n nb" x="97" y="923">CD44</text></g>
<g id="B-NNAT"><ellipse class="g1" cx="225" cy="914" rx="23" ry="9.5"/><text class="n nb" x="225" y="914">NNAT</text></g>
<g id="B-CNTFR"><ellipse class="g1" cx="69" cy="955" rx="23" ry="9.5"/><text class="n nb" x="69" y="955">CNTFR</text></g>
<g id="B-EYA3"><ellipse class="g1" cx="251" cy="947" rx="23" ry="9.5"/><text class="n nb" x="251" y="947">EYA3</text></g>
<g id="B-AKT2"><ellipse class="g1" cx="61" cy="985" rx="23" ry="9.5"/><text class="n nb" x="61" y="985">AKT2</text></g>
<g id="B-CASP2"><ellipse class="g1" cx="265" cy="976" rx="23" ry="9.5"/><text class="n nb" x="265" y="976">CASP2</text></g>
<g id="B-CD274"><ellipse class="g1" cx="263" cy="1008" rx="23" ry="9.5"/><text class="n nb" x="263" y="1008">CD274</text></g>
<g id="B-AKT1"><ellipse class="g1" cx="63" cy="1015" rx="23" ry="9.5"/><text class="n nb" x="63" y="1015">AKT1</text></g>
<g id="B-MMP2"><ellipse class="g1" cx="251" cy="1034" rx="23" ry="9.5"/><text class="n nb" x="251" y="1034">MMP2</text></g>
<g id="B-IKBKG"><ellipse class="g1" cx="79" cy="1043" rx="23" ry="9.5"/><text class="n nb" x="79" y="1043">IKBKG</text></g>
<g id="B-SMAD3"><ellipse class="g1" cx="231" cy="1059" rx="23" ry="9.5"/><text class="n nb" x="231" y="1059">SMAD3</text></g>
<g id="B-KDM1A"><ellipse class="g1" cx="105" cy="1068" rx="23" ry="9.5"/><text class="n nb" x="105" y="1068">KDM1A</text></g>
<g id="B-PARP1"><ellipse class="g1" cx="200" cy="1080" rx="23" ry="9.5"/><text class="n nb" x="200" y="1080">PARP1</text></g>
<g id="B-TMEM68"><ellipse class="g1" cx="147" cy="1087" rx="23" ry="9.5"/><text class="n nb" x="147" y="1087">TMEM68</text></g>

<g id="B-MALAT1"><ellipse class="g1" cx="546" cy="847" rx="23" ry="9.5"/><text class="n nb" x="546" y="847">MALAT1</text></g>
<g id="B-ONECUT2"><ellipse class="g1" cx="600" cy="852" rx="23" ry="9.5"/><text class="n nb" x="600" y="852">ONECUT2</text></g>
<g id="B-RERE"><ellipse class="g1" cx="490" cy="862" rx="23" ry="9.5"/><text class="n nb" x="490" y="862">RERE</text></g>
<g id="B-KLHL20"><ellipse class="g1" cx="646" cy="871" rx="23" ry="9.5"/><text class="n nb" x="646" y="871">KLHL20</text></g>
<g id="B-XIAP"><ellipse class="g1" cx="555" cy="873" rx="23" ry="9.5"/><text class="n nb" x="555" y="873">XIAP</text></g>
<g id="B-WDR37"><ellipse class="g1" cx="511" cy="886" rx="23" ry="9.5"/><text class="n nb" x="511" y="886">WDR37</text></g>
<g id="B-ZFPM2"><ellipse class="g1" cx="599" cy="882" rx="23" ry="9.5"/><text class="n nb" x="599" y="882">ZFPM2</text></g>
<g id="B-ZEB1"><ellipse class="g1" cx="455" cy="890" rx="23" ry="9.5"/><text class="n nb" x="455" y="890">ZEB1</text></g>
<g id="B-RASSF8"><ellipse class="g1" cx="675" cy="899" rx="23" ry="9.5"/><text class="n nb" x="675" y="899">RASSF8</text></g>
<g id="B-BAP1"><ellipse class="g1" cx="538" cy="911" rx="23" ry="9.5"/><text class="n nb" x="538" y="911">BAP1</text></g>
<g id="B-RIN2"><ellipse class="g1" cx="594" cy="909" rx="23" ry="9.5"/><text class="n nb" x="594" y="909">RIN2</text></g>
<g id="B-SP1"><ellipse class="g1" cx="488" cy="914" rx="23" ry="9.5"/><text class="n nb" x="488" y="914">SP1</text></g>
<g id="B-IL4"><ellipse class="g1" cx="641" cy="920" rx="23" ry="9.5"/><text class="n nb" x="641" y="920">IL4</text></g>
<g id="B-DLC1"><ellipse class="g1" cx="438" cy="923" rx="23" ry="9.5"/><text class="n nb" x="438" y="923">DLC1</text></g>
<g id="B-VEGFA"><ellipse class="g1" cx="683" cy="932" rx="23" ry="9.5"/><text class="n nb" x="683" y="932">VEGFA</text></g>
<g id="B-SOX2"><ellipse class="g1" cx="478" cy="945" rx="23" ry="9.5"/><text class="n nb" x="478" y="945">SOX2</text></g>
<g id="B-HOXB5"><ellipse class="g1" cx="643" cy="950" rx="23" ry="9.5"/><text class="n nb" x="643" y="950">HOXB5</text></g>
<g id="B-HIF1A"><ellipse class="g1" cx="431" cy="958" rx="23" ry="9.5"/><text class="n nb" x="431" y="958">HIF1A</text></g>
<g id="B-TCF7L1"><ellipse class="g1" cx="475" cy="973" rx="23" ry="9.5"/><text class="n nb" x="475" y="973">TCF7L1</text></g>
<g id="B-MYB"><ellipse class="g1" cx="691" cy="966" rx="23" ry="9.5"/><text class="n nb" x="691" y="966">MYB</text></g>
<g id="B-FSCN1"><ellipse class="g1" cx="434" cy="994" rx="23" ry="9.5"/><text class="n nb" x="434" y="994">FSCN1</text></g>
<g id="B-TIMP2"><ellipse class="g1" cx="645" cy="983" rx="23" ry="9.5"/><text class="n nb" x="645" y="983">TIMP2</text></g>
<g id="B-RASSF2"><ellipse class="g1" cx="486" cy="1006" rx="23" ry="9.5"/><text class="n nb" x="486" y="1006">RASSF2</text></g>
<g id="B-CRKL"><ellipse class="g1" cx="691" cy="999" rx="23" ry="9.5"/><text class="n nb" x="691" y="999">CRKL</text></g>
<g id="B-KLF11"><ellipse class="g1" cx="449" cy="1026" rx="23" ry="9.5"/><text class="n nb" x="449" y="1026">KLF11</text></g>
<g id="B-DNMT1"><ellipse class="g1" cx="639" cy="1017" rx="23" ry="9.5"/><text class="n nb" x="639" y="1017">DNMT1</text></g>
<g id="B-ERBIN"><ellipse class="g1" cx="567" cy="1027" rx="23" ry="9.5"/><text class="n nb" x="567" y="1027">ERBIN</text></g>
<g id="B-WASF3"><ellipse class="g1" cx="682" cy="1031" rx="23" ry="9.5"/><text class="n nb" x="682" y="1031">WASF3</text></g>
<g id="B-SHC1"><ellipse class="g1" cx="600" cy="1046" rx="23" ry="9.5"/><text class="n nb" x="600" y="1046">SHC1</text></g>
<g id="B-PTPRD"><ellipse class="g1" cx="512" cy="1035" rx="23" ry="9.5"/><text class="n nb" x="512" y="1035">PTPRD</text></g>
<g id="B-VAC14"><ellipse class="g1" cx="477" cy="1054" rx="23" ry="9.5"/><text class="n nb" x="477" y="1054">VAC14</text></g>
<g id="B-SEPTIN7"><ellipse class="g1" cx="648" cy="1061" rx="23" ry="9.5"/><text class="n nb" x="648" y="1061">SEPTIN7</text></g>
<g id="B-PTEN"><ellipse class="g1" cx="552" cy="1058" rx="23" ry="9.5"/><text class="n nb" x="552" y="1058">PTEN</text></g>
<g id="B-OSTF1"><ellipse class="g1" cx="505" cy="1079" rx="23" ry="9.5"/><text class="n nb" x="505" y="1079">OSTF1</text></g>
<g id="B-ELMO2"><ellipse class="g1" cx="610" cy="1081" rx="23" ry="9.5"/><text class="n nb" x="610" y="1081">ELMO2</text></g>
<g id="B-RBBP4"><ellipse class="g1" cx="558" cy="1090" rx="23" ry="9.5"/><text class="n nb" x="558" y="1090">RBBP4</text></g>

<g id="B-hsa-miR-449a"><rect class="mi" x="198" y="666.5" width="76" height="23"/><text class="m" x="236" y="678">hsa-miR-449a</text></g>
<g id="B-hsa-miR-382-5p"><rect class="mi" x="429.5" y="674.5" width="77" height="23"/><text class="m" x="468" y="686">hsa-miR-382-5p</text></g>
<g id="B-hsa-miR-15b-3p"><rect class="mi" x="614.5" y="683" width="77" height="22"/><text class="m" x="653" y="694">hsa-miR-15b-3p</text></g>
<g id="B-hsa-miR-708-5p"><rect class="mi" x="126" y="983" width="76" height="22"/><text class="m" x="164" y="994">hsa-miR-708-5p</text></g>
<g id="B-hsa-miR-429"><rect class="mi" x="527" y="950" width="76" height="22"/><text class="m" x="565" y="961">hsa-miR-429</text></g>
</g>

<g id="legend-network">
<rect class="mi" x="773" y="981.5" width="70" height="21"/><text class="lgb" x="860" y="992">microRNA</text>
<ellipse class="g1" cx="808" cy="1025" rx="35" ry="11"/><text class="lgb" x="860" y="1025">Gene targeted by 1 microRNA</text>
<ellipse class="g2" cx="808" cy="1060" rx="35" ry="11"/><text class="lgb" x="860" y="1060">Gene targeted by 2 microRNAs</text>
<ellipse class="g3" cx="808" cy="1094" rx="35" ry="11"/><text class="lgb" x="860" y="1094">Gene targeted by 3 microRNAs</text>
</g>

<g id="chart">
<rect x="1166" y="66" width="396" height="694" fill="#f2f2f2"/>
<g id="bars">
<rect class="kegg" x="1174" y="73.5" width="215.8" height="17"/>
<rect class="kegg" x="1174" y="98.1" width="148.8" height="17"/>
<rect class="kegg" x="1174" y="122.8" width="148.8" height="17"/>
<rect class="kegg" x="1174" y="147.4" width="208.3" height="17"/>
<rect class="kegg" x="1174" y="172" width="152.5" height="17"/>
<rect class="kegg" x="1174" y="196.7" width="297.6" height="17"/>
<rect class="kegg" x="1174" y="221.3" width="174.8" height="17"/>
<rect class="kegg" x="1174" y="245.9" width="219.5" height="17"/>
<rect class="kegg" x="1174" y="270.5" width="182.3" height="17"/>
<rect class="kegg" x="1174" y="295.2" width="148.8" height="17"/>
<rect class="kegg" x="1174" y="319.8" width="156.2" height="17"/>
<rect class="go" x="1174" y="344.4" width="323.6" height="17"/>
<rect class="go" x="1174" y="369.1" width="275.3" height="17"/>
<rect class="go" x="1174" y="393.7" width="264.1" height="17"/>
<rect class="go" x="1174" y="418.3" width="267.8" height="17"/>
<rect class="go" x="1174" y="443" width="215.8" height="17"/>
<rect class="go" x="1174" y="467.6" width="178.6" height="17"/>
<rect class="go" x="1174" y="492.2" width="182.3" height="17"/>
<rect class="go" x="1174" y="516.8" width="152.5" height="17"/>
<rect class="go" x="1174" y="541.5" width="156.2" height="17"/>
<rect class="go" x="1174" y="566.1" width="167.4" height="17"/>
<rect class="rea" x="1174" y="590.7" width="346" height="17"/>
<rect class="rea" x="1174" y="615.4" width="163.7" height="17"/>
<rect class="rea" x="1174" y="640" width="215.8" height="17"/>
<rect class="rea" x="1174" y="664.6" width="186" height="17"/>
<rect class="rea" x="1174" y="689.3" width="178.6" height="17"/>
<rect class="rea" x="1174" y="713.9" width="152.5" height="17"/>
<rect class="rea" x="1174" y="738.5" width="148.8" height="17"/>
</g>
<g id="categories">
<text class="cat" x="1157" y="82">Cellular senescence</text>
<text class="cat" x="1157" y="106.6">Apoptosis</text>
<text class="cat" x="1157" y="131.3">Regulation of actin cytoskeleton</text>
<text class="cat" x="1157" y="155.9">Focal adhesion</text>
<text class="cat" x="1157" y="180.5">Autophagy - animal</text>
<text class="cat" x="1157" y="205.2">PI3K-Akt signaling pathway</text>
<text class="cat" x="1157" y="229.8">FoxO signaling pathway</text>
<text class="cat" x="1157" y="254.4">MAPK signaling pathway</text>
<text class="cat" x="1157" y="279">Ras signaling pathway</text>
<text class="cat" x="1157" y="303.7">JAK-STAT signaling pathway</text>
<text class="cat" x="1157" y="328.3">Relaxin signaling pathway</text>
<text class="cat" x="1157" y="352.9">gland development</text>
<text class="cat" x="1157" y="377.6">regulation of apoptotic signaling pathway</text>
<text class="cat" x="1157" y="402.2">cell-cell signaling by wnt</text>
<text class="cat" x="1157" y="426.8">positive regulation of cell adhesion</text>
<text class="cat" x="1157" y="451.5">wound healing</text>
<text class="cat" x="1157" y="476.1">rhythmic process</text>
<text class="cat" x="1157" y="500.7">extracellular matrix organization</text>
<text class="cat" x="1157" y="525.3">G1/S transition of mitotic cell cycle</text>
<text class="cat" x="1157" y="550">negative regulation of cytokine production</text>
<text class="cat" x="1157" y="574.6">blood circulation</text>
<text class="cat" x="1157" y="599.2">Signaling by Interleukins</text>
<text class="cat" x="1157" y="623.9">Interleukin-4 and Interleukin-13 signaling</text>
<text class="cat" x="1157" y="648.5">Extracellular matrix organization</text>
<text class="cat" x="1157" y="673.1">PIP3 activates AKT signaling</text>
<text class="cat" x="1157" y="697.8">MAPK family signaling cascades</text>
<text class="cat" x="1157" y="722.4">Platelet activation, signaling and aggregation</text>
<text class="cat" x="1157" y="747">Signaling by WNT</text>
</g>
<g id="values">
<text class="val" x="1399.8" y="82">58</text>
<text class="val" x="1332.8" y="106.6">40</text>
<text class="val" x="1332.8" y="131.3">40</text>
<text class="val" x="1392.3" y="155.9">56</text>
<text class="val" x="1336.5" y="180.5">41</text>
<text class="val" x="1481.6" y="205.2">80</text>
<text class="val" x="1358.8" y="229.8">47</text>
<text class="val" x="1403.5" y="254.4">59</text>
<text class="val" x="1366.3" y="279">49</text>
<text class="val" x="1332.8" y="303.7">40</text>
<text class="val" x="1340.2" y="328.3">42</text>
<text class="val" x="1507.6" y="352.9">87</text>
<text class="val" x="1459.3" y="377.6">74</text>
<text class="val" x="1448.1" y="402.2">71</text>
<text class="val" x="1451.8" y="426.8">72</text>
<text class="val" x="1399.8" y="451.5">58</text>
<text class="val" x="1362.6" y="476.1">48</text>
<text class="val" x="1366.3" y="500.7">49</text>
<text class="val" x="1336.5" y="525.3">41</text>
<text class="val" x="1340.2" y="550">42</text>
<text class="val" x="1351.4" y="574.6">45</text>
<text class="val" x="1530" y="599.2">93</text>
<text class="val" x="1347.7" y="623.9">44</text>
<text class="val" x="1399.8" y="648.5">58</text>
<text class="val" x="1370" y="673.1">50</text>
<text class="val" x="1362.6" y="697.8">48</text>
<text class="val" x="1336.5" y="722.4">41</text>
<text class="val" x="1332.8" y="747">40</text>
</g>
<g id="axis" stroke="#555" stroke-width="0.8">
<line x1="1174" y1="760" x2="1546" y2="760"/>
<line x1="1174" y1="760" x2="1174" y2="765"/><line x1="1248.4" y1="760" x2="1248.4" y2="765"/><line x1="1322.8" y1="760" x2="1322.8" y2="765"/><line x1="1397.2" y1="760" x2="1397.2" y2="765"/><line x1="1471.6" y1="760" x2="1471.6" y2="765"/><line x1="1546" y1="760" x2="1546" y2="765"/>
</g>
<text class="tk" x="1174" y="788">0</text><text class="tk" x="1248.4" y="788">20</text><text class="tk" x="1322.8" y="788">40</text><text class="tk" x="1397.2" y="788">60</text><text class="tk" x="1471.6" y="788">80</text><text class="tk" x="1546" y="788">100</text>
<g id="legend-chart">
<rect class="kegg" x="1207" y="832" width="18" height="18"/><text class="lg" x="1237" y="841">KEGG pathway</text>
<rect class="go" x="1207" y="868" width="18" height="18"/><text class="lg" x="1237" y="877">Gene Ontology – biological process</text>
<rect class="rea" x="1207" y="903" width="18" height="18"/><text class="lg" x="1237" y="912">Reactome</text>
</g>
</g>
</g>
</svg>
